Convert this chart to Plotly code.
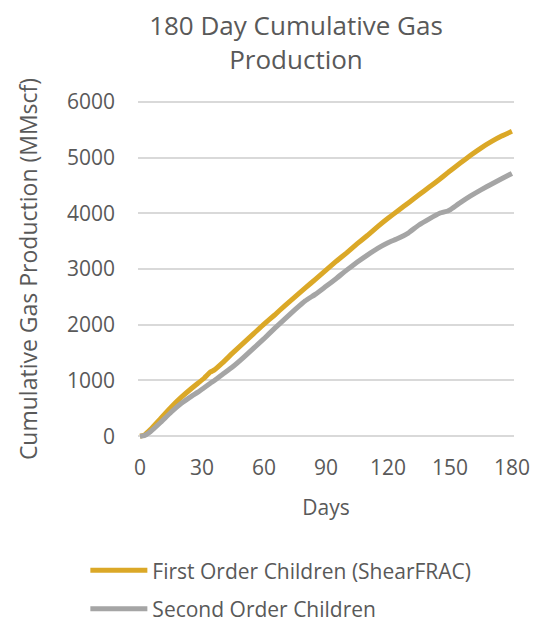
import plotly.graph_objects as go

days = [0, 2, 5, 10, 15, 20, 25, 28, 31, 34, 36, 40, 45, 50, 55, 60, 65, 70, 75, 80,
        85, 90, 95, 100, 105, 110, 115, 120, 125, 130, 135, 140, 145, 149, 150, 155,
        160, 165, 170, 175, 180]

first_order = [0, 20, 120, 320, 520, 700, 860, 950, 1040, 1150, 1190, 1320, 1500, 1670,
               1840, 2010, 2170, 2340, 2500, 2660, 2820, 2980, 3140, 3290, 3450, 3600,
               3760, 3910, 4050, 4190, 4330, 4470, 4610, 4730, 4760, 4900, 5040, 5170,
               5285, 5385, 5470]

second_order = [0, 10, 80, 250, 430, 590, 720, 790, 870, 950, 1000, 1110, 1250, 1410,
                1580, 1750, 1930, 2100, 2270, 2430, 2550, 2690, 2830, 2980, 3120, 3250,
                3370, 3470, 3550, 3650, 3790, 3900, 4000, 4040, 4060, 4190, 4310, 4420,
                4520, 4620, 4715]

series_names = ["First Order Children (ShearFRAC)", "Second Order Children"]
x_ticks = [0, 30, 60, 90, 120, 150, 180]
y_ticks = [0, 1000, 2000, 3000, 4000, 5000, 6000]

TEXT = "#595959"
FONT = "Open Sans"

# page body has an 8px margin, so the figure is drawn 8px right / down
W, H = 538, 613

fig = go.Figure()
fig.add_trace(go.Scatter(x=days, y=first_order, mode="lines", name=series_names[0],
                         legendgroup="a",
                         line=dict(color="#DBA827", width=5, shape="spline", smoothing=0.4)))
fig.add_trace(go.Scatter(x=days, y=second_order, mode="lines", name=series_names[1],
                         legendgroup="b",
                         line=dict(color="#A5A5A5", width=5, shape="spline", smoothing=0.4)))

fig.update_layout(
    width=W, height=H,
    margin=dict(l=130, r=32, t=91, b=182, autoexpand=False),
    paper_bgcolor="white", plot_bgcolor="white",
    font=dict(family=FONT, color=TEXT, size=20),
    title=dict(text="180 Day Cumulative Gas<br>Production", x=288/W, xanchor="center",
               xref="container", yref="container",
               y=1 - 27/H, yanchor="middle", font=dict(size=26, color=TEXT, family=FONT)),
    xaxis=dict(range=[-1, 181], tickvals=x_ticks, showgrid=False, zeroline=False,
               showline=False, ticks="", ticklabelstandoff=14,
               tickfont=dict(size=21, color=TEXT),
               title=dict(text="Days", font=dict(size=21, color=TEXT), standoff=20)),
    yaxis=dict(range=[-50, 6050], tickvals=y_ticks, showgrid=True, gridcolor="#D9D9D9",
               gridwidth=1.5, zeroline=False, showline=False, ticks="",
               ticklabelstandoff=22, tickfont=dict(size=21, color=TEXT),
               title=dict(text="Cumulative Gas Production (MMscf)",
                          font=dict(size=23, color=TEXT), standoff=22)),
    legend=dict(x=-0.14, xanchor="left", y=-0.327, yanchor="top",
                orientation="v", traceorder="grouped", tracegroupgap=8,
                itemwidth=57, font=dict(size=21, color=TEXT), bgcolor="rgba(0,0,0,0)"),
    showlegend=True,
)

fig.write_html("out.html")
